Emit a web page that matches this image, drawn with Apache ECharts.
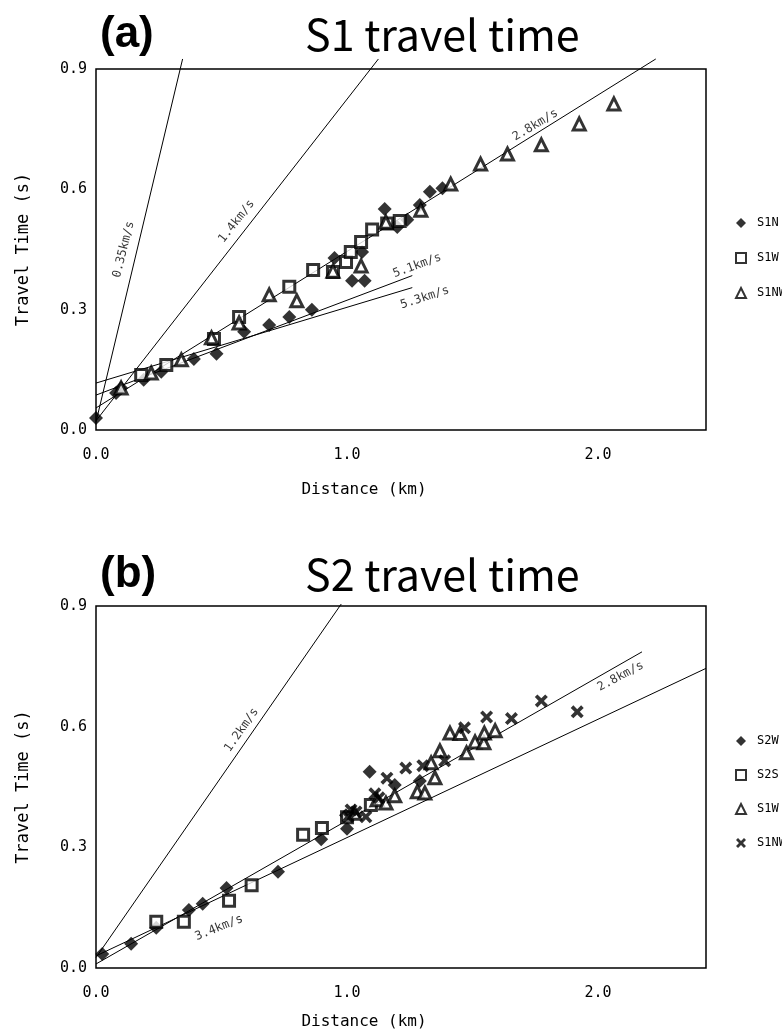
<!DOCTYPE html>
<html lang="en">
<head>
<meta charset="UTF-8">
<title>S1 / S2 travel time</title>
<script src="https://cdn.jsdelivr.net/npm/echarts@6/dist/echarts.min.js"></script>
<style>
    html, body { margin: 0; padding: 0; background: #fff; }
    #chart { width: 782px; height: 1034px; }
</style>
</head>
<body>
<div id="chart"></div>
<script type="text/javascript">
// ---- (a) S1 travel time, points are [distance km, travel time s]
var s1N = [[0.00,0.030],[0.08,0.092],[0.10,0.105],[0.19,0.125],[0.26,0.145],[0.39,0.177],[0.48,0.190],
    [0.59,0.245],[0.69,0.262],[0.77,0.282],[0.86,0.300],[0.95,0.429],[1.02,0.372],[1.07,0.372],
    [1.06,0.444],[1.15,0.551],[1.20,0.506],[1.24,0.524],[1.29,0.561],[1.33,0.594],[1.38,0.603]];
var s1W = [[0.18,0.137],[0.28,0.162],[0.47,0.227],[0.57,0.282],[0.77,0.357],[0.865,0.399],[0.944,0.394],
    [0.996,0.419],[1.015,0.444],[1.056,0.469],[1.10,0.500],[1.16,0.515],[1.21,0.521]];
var s1NW = [[0.10,0.105],[0.22,0.142],[0.34,0.175],[0.46,0.230],[0.57,0.267],[0.69,0.337],[0.80,0.322],
    [0.944,0.396],[1.056,0.409],[1.155,0.518],[1.294,0.548],[1.413,0.613],[1.532,0.663],[1.639,0.688],
    [1.774,0.711],[1.925,0.763],[2.063,0.813]];

// velocity lines of (a), two end points each
var lineA035 = [[0.0,0.020],[0.345,0.925]];
var lineA14  = [[0.0,0.023],[1.125,0.925]];
var lineA28  = [[0.0,0.055],[2.23,0.925]];
var lineA51  = [[0.0,0.087],[1.26,0.385]];
var lineA53  = [[0.0,0.117],[1.26,0.355]];
var labelTextA = ['0.35km/s','1.4km/s','2.8km/s','5.1km/s','5.3km/s'];
var labelAtA   = [[0.11,0.45],[0.56,0.52],[1.75,0.76],[1.28,0.41],[1.31,0.33]];
var labelRotA  = [76, 52, 31, 20, 18];

// ---- (b) S2 travel time
var s2W = [[0.025,0.035],[0.14,0.060],[0.24,0.100],[0.37,0.144],[0.425,0.160],[0.52,0.199],[0.725,0.239],
    [0.897,0.320],[0.996,0.380],[1.00,0.346],[1.09,0.488],[1.19,0.455],[1.29,0.465]];
var s2S = [[0.24,0.115],[0.35,0.115],[0.53,0.167],[0.62,0.206],[0.825,0.331],[0.90,0.348],[1.00,0.375],[1.095,0.405]];
var s1Wb = [[1.03,0.385],[1.12,0.418],[1.155,0.410],[1.19,0.428],[1.28,0.438],[1.31,0.435],[1.35,0.473],
    [1.335,0.510],[1.37,0.540],[1.41,0.584],[1.45,0.583],[1.476,0.535],[1.51,0.562],[1.545,0.560],
    [1.547,0.584],[1.59,0.590]];
var s1NWb = [[1.004,0.376],[1.016,0.393],[1.036,0.388],[1.075,0.376],[1.111,0.433],[1.127,0.423],
    [1.159,0.472],[1.234,0.497],[1.302,0.503],[1.389,0.515],[1.468,0.597],[1.556,0.624],[1.655,0.620],
    [1.774,0.664],[1.917,0.637]];

var lineB12 = [[0.0,0.026],[0.977,0.905]];
var lineB28 = [[0.0,0.010],[2.175,0.786]];
var lineB34 = [[0.0,0.030],[2.43,0.745]];
var labelTextB = ['1.2km/s','2.8km/s','3.4km/s'];
var labelAtB   = [[0.58,0.592],[2.09,0.725],[0.49,0.10]];
var labelRotB  = [55, 28, 22];

var mono = "'DejaVu Sans Mono', monospace";
var crossPath = 'path://M2,0 L5,3 L8,0 L10,2 L7,5 L10,8 L8,10 L5,7 L2,10 L0,8 L3,5 L0,2 Z';

var chart = echarts.init(document.getElementById('chart'));

function lineSeries(data, g) {
    return {
        type: 'line', xAxisIndex: g, yAxisIndex: g, data: data,
        symbol: 'none', clip: false, silent: true, z: 1,
        lineStyle: {color: '#000', width: 1}
    };
}
function labelSeries(texts, at, rot, g) {
    return {
        type: 'scatter', xAxisIndex: g, yAxisIndex: g, symbolSize: 1, silent: true, z: 2,
        itemStyle: {color: 'rgba(0,0,0,0)'},
        label: {show: true, position: 'inside', formatter: '{b}', fontFamily: mono, fontSize: 12, color: '#000'},
        data: texts.map(function (t, i) {
            return {name: t, value: at[i], label: {rotate: rot[i]}};
        })
    };
}
// marker styles
function diamond(name, data, g) {
    return {name: name, type: 'scatter', xAxisIndex: g, yAxisIndex: g, data: data, z: 3,
        symbol: 'diamond', symbolSize: 14, itemStyle: {color: '#000'}};
}
function square(name, data, g) {
    return {name: name, type: 'scatter', xAxisIndex: g, yAxisIndex: g, data: data, z: 3,
        symbol: 'rect', symbolSize: 11, itemStyle: {color: '#fff', borderColor: '#000', borderWidth: 3}};
}
function triangle(name, data, g) {
    return {name: name, type: 'scatter', xAxisIndex: g, yAxisIndex: g, data: data, z: 3,
        symbol: 'triangle', symbolSize: 12, itemStyle: {color: '#fff', borderColor: '#000', borderWidth: 3}};
}
function cross(name, data, g) {
    return {name: name, type: 'scatter', xAxisIndex: g, yAxisIndex: g, data: data, z: 3,
        symbol: crossPath, symbolSize: 13, itemStyle: {color: '#000'}};
}

function xAxisOf(g, gap) {
    return {
        gridIndex: g, type: 'value', min: 0, max: 2.43, interval: 1,
        name: 'Distance (km)', nameLocation: 'middle', nameGap: gap,
        nameTextStyle: {fontFamily: mono, fontSize: 16, color: '#000', padding: [0, 74, 0, 0]},
        axisLine: {show: false}, axisTick: {show: false}, splitLine: {show: false},
        axisLabel: {fontFamily: mono, fontSize: 15, color: '#000', margin: 18, showMaxLabel: false,
            formatter: function (v) { return v.toFixed(1); }}
    };
}
function yAxisOf(g) {
    return {
        gridIndex: g, type: 'value', min: 0, max: 0.9, interval: 0.3,
        name: 'Travel Time (s)', nameLocation: 'middle', nameGap: 64,
        nameTextStyle: {fontFamily: mono, fontSize: 17, color: '#000'},
        axisLine: {show: false}, axisTick: {show: false}, splitLine: {show: false},
        axisLabel: {fontFamily: mono, fontSize: 15, color: '#000', margin: 9,
            formatter: function (v) { return v.toFixed(1); }}
    };
}
var legendText = {fontFamily: mono, fontSize: 12, color: '#000', padding: [0, 0, 0, 6]};
var titleBig = {fontFamily: 'Noto Sans CJK JP', fontWeight: 'normal', fontSize: 43, color: '#000'};
var titleTag = {fontFamily: 'Liberation Sans', fontWeight: 'bold', fontSize: 44, color: '#000'};

var option = {
    animation: false,
    backgroundColor: '#fff',
    title: [
        {text: '(a)', left: 95, top: 8, textStyle: titleTag},
        {text: 'S1 travel time', left: 300, top: 8, textStyle: titleBig},
        {text: '(b)', left: 95, top: 548, textStyle: titleTag},
        {text: 'S2 travel time', left: 300, top: 548, textStyle: titleBig}
    ],
    legend: [
        {data: ['S1N', 'S1W', 'S1NW'], orient: 'vertical', left: 730, top: 212,
            itemWidth: 10, itemHeight: 10, itemGap: 23, textStyle: legendText},
        {data: ['S2W (b)', 'S2S (b)', 'S1W (b)', 'S1NW (b)'], orient: 'vertical', left: 730, top: 730,
            itemWidth: 10, itemHeight: 10, itemGap: 22, textStyle: legendText,
            formatter: function (n) { return n.replace(' (b)', ''); }}
    ],
    grid: [
        {left: 96, right: 76, top: 69, bottom: 604, show: true, borderColor: '#000', borderWidth: 1.5},
        {left: 96, right: 76, top: 606, bottom: 66, show: true, borderColor: '#000', borderWidth: 1.5}
    ],
    xAxis: [xAxisOf(0, 52), xAxisOf(1, 46)],
    yAxis: [yAxisOf(0), yAxisOf(1)],
    series: [
        lineSeries(lineA035, 0), lineSeries(lineA14, 0), lineSeries(lineA28, 0),
        lineSeries(lineA51, 0), lineSeries(lineA53, 0),
        labelSeries(labelTextA, labelAtA, labelRotA, 0),
        diamond('S1N', s1N, 0), square('S1W', s1W, 0), triangle('S1NW', s1NW, 0),

        lineSeries(lineB12, 1), lineSeries(lineB28, 1), lineSeries(lineB34, 1),
        labelSeries(labelTextB, labelAtB, labelRotB, 1),
        diamond('S2W (b)', s2W, 1), square('S2S (b)', s2S, 1), triangle('S1W (b)', s1Wb, 1), cross('S1NW (b)', s1NWb, 1)
    ]
};
chart.setOption(option);
</script>
</body>
</html>
